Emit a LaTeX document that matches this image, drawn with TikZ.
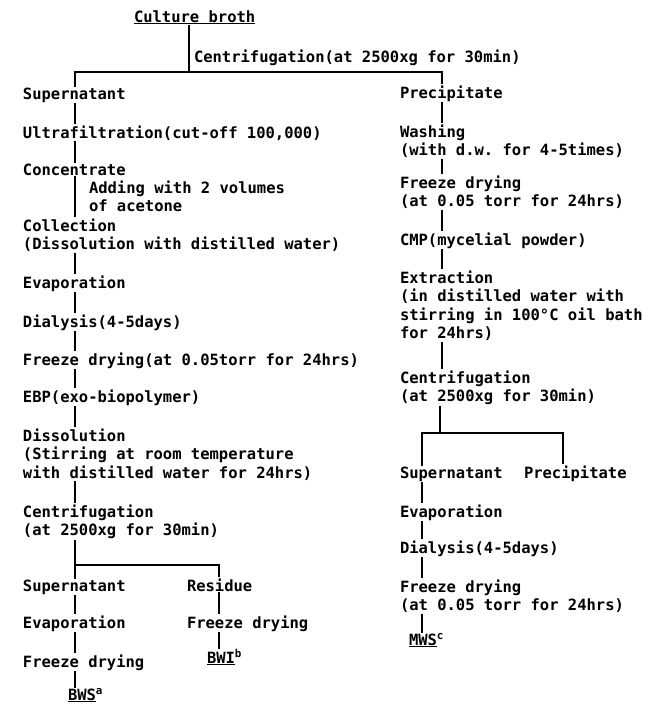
\documentclass[tikz,border=0pt]{standalone}
\usepackage{fontspec}
\setmonofont{DejaVu Sans Mono}
\usepackage{tikz}
\tikzset{txt/.style={anchor=base west, inner sep=0.8pt, align=left, font=\ttfamily\bfseries\fontsize{15.5}{18.6}\selectfont}}
\tikzset{flow/.style={line width=1.3pt}}

\begin{document}
\begin{tikzpicture}[x=1pt,y=-1pt]
		\useasboundingbox (0,0) rectangle (652,713);
		%columns
		\coordinate (colA) at (75,0);
		\coordinate (colB) at (442,0);
		\coordinate (colR) at (219,0);
		\coordinate (colS) at (422,0);
		\coordinate (colP) at (563,0);
		\coordinate (s1) at (189,72);
		\coordinate (s2) at (75,565);
		\coordinate (s3) at (440,433);
		\begin{scope}
			%top
			\node[txt] (broth) at (133,22) {\underline{Culture broth}};
			\node[txt] (centT) at (193,62) {Centrifugation(at 2500xg for 30min)};
		\end{scope}
		\begin{scope}
			%supernatant side (multi line nodes sit on their last line)
			\node[txt] (supA) at (22,99) {Supernatant};
			\node[txt] (ultra) at (22,138) {Ultrafiltration(cut-off 100,000)};
			\node[txt] (conc) at (22,175) {Concentrate};
			\node[txt] (acet) at (88,211.6) {Adding with 2 volumes\\of acetone};
			\node[txt] (coll) at (22,249.6) {Collection\\(Dissolution with distilled water)};
			\node[txt] (evapA) at (22,288) {Evaporation};
			\node[txt] (dialA) at (22,327) {Dialysis(4-5days)};
			\node[txt] (fdA) at (22,365) {Freeze drying(at 0.05torr for 24hrs)};
			\node[txt] (ebp) at (22,402) {EBP(exo-biopolymer)};
			\node[txt] (diss) at (22,478.2) {Dissolution\\(Stirring at room temperature\\with distilled water for 24hrs)};
			\node[txt] (centA) at (22,535.6) {Centrifugation\\(at 2500xg for 30min)};
			\node[txt] (supB) at (22,591) {Supernatant};
			\node[txt] (resi) at (186,591) {Residue};
			\node[txt] (evapB) at (22,628) {Evaporation};
			\node[txt] (fdB) at (186,628) {Freeze drying};
			\node[txt] (fdC) at (22,667) {Freeze drying};
			\node[txt] (bwi) at (206,663) {\underline{BWI}\textsuperscript{b}};
			\node[txt] (bws) at (67,700) {\underline{BWS}\textsuperscript{a}};
		\end{scope}
		\begin{scope}
			%precipitate side
			\node[txt] (precA) at (399,98) {Precipitate};
			\node[txt] (wash) at (399,155.6) {Washing\\(with d.w. for 4-5times)};
			\node[txt] (fdD) at (399,206.6) {Freeze drying\\(at 0.05 torr for 24hrs)};
			\node[txt] (cmp) at (399,245) {CMP(mycelial powder)};
			\node[txt] (extr) at (399,338.8) {Extraction\\(in distilled water with\\stirring in 100°C oil bath\\for 24hrs)};
			\node[txt] (centB) at (399,401.6) {Centrifugation\\(at 2500xg for 30min)};
			\node[txt] (supC) at (399,478) {Supernatant};
			\node[txt] (precB) at (523,478) {Precipitate};
			\node[txt] (evapC) at (399,517) {Evaporation};
			\node[txt] (dialC) at (399,553) {Dialysis(4-5days)};
			\node[txt] (fdE) at (399,610.6) {Freeze drying\\(at 0.05 torr for 24hrs)};
			\node[txt] (mws) at (408,645) {\underline{MWS}\textsuperscript{c}};
		\end{scope}
		\begin{scope}[flow]
			%first split
			\draw (broth.south -| s1) -- (s1);
			\draw (supA.north -| colA) -- (colA |- s1) -- (colB |- s1) -- (precA.north -| colB);
			%left chain
			\draw (supA.south -| colA) -- (ultra.north -| colA);
			\draw (ultra.south -| colA) -- (conc.north -| colA);
			\draw (conc.south -| colA) -- (coll.north -| colA);
			\draw (coll.south -| colA) -- (evapA.north -| colA);
			\draw (evapA.south -| colA) -- (dialA.north -| colA);
			\draw (dialA.south -| colA) -- (fdA.north -| colA);
			\draw (fdA.south -| colA) -- (ebp.north -| colA);
			\draw (ebp.south -| colA) -- (diss.north -| colA);
			\draw (diss.south -| colA) -- (centA.north -| colA);
			\draw (centA.south -| colA) -- (s2) -- (colR |- s2) -- (resi.north -| colR);
			\draw (s2) -- (supB.north -| colA);
			\draw (supB.south -| colA) -- (evapB.north -| colA);
			\draw (evapB.south -| colA) -- (fdC.north -| colA);
			\draw (fdC.south -| colA) -- (bws.north -| colA);
			\draw (resi.south -| colR) -- (fdB.north -| colR);
			\draw (fdB.south -| colR) -- (bwi.north -| colR);
			%right chain
			\draw (precA.south -| colB) -- (wash.north -| colB);
			\draw (wash.south -| colB) -- (fdD.north -| colB);
			\draw (fdD.south -| colB) -- (cmp.north -| colB);
			\draw (cmp.south -| colB) -- (extr.north -| colB);
			\draw (extr.south -| colB) -- (centB.north -| colB);
			\draw (centB.south -| s3) -- (s3);
			\draw (supC.north -| colS) -- (colS |- s3) -- (colP |- s3) -- (precB.north -| colP);
			\draw (supC.south -| colS) -- (evapC.north -| colS);
			\draw (evapC.south -| colS) -- (dialC.north -| colS);
			\draw (dialC.south -| colS) -- (fdE.north -| colS);
			\draw (fdE.south -| colS) -- (mws.north -| colS);
		\end{scope}
	\end{tikzpicture}
\end{document}
